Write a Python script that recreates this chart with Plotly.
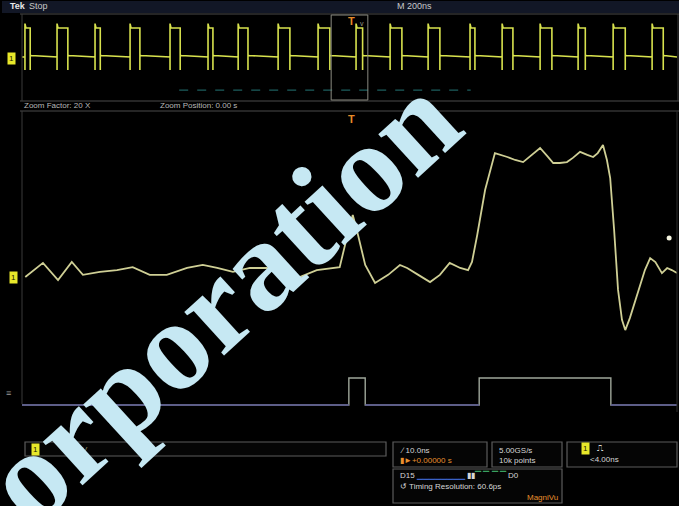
import plotly.graph_objects as go

W, H = 689, 506

# ---------------- data ----------------
# Overview acquisition (M 200ns/div): pulse rising / falling edge times (ns)
ov_rise = [-991, -893, -777, -670, -548, -432, -340, -218, -96, 20, 124, 240, 368, 466, 582, 698, 805, 924]
ov_fall = [-975, -860, -761, -640, -517, -417, -310, -182, -60, 40, 160, 276, 383, 499, 618, 720, 842, 958]
ov_low, ov_high = 0.0, 1.0
ov_under, ov_over = -0.45, 1.15

# Overview digital bus (faint)
ov_dig_t = [-520, 370]
ov_dig_v = [-1.14, -1.14]

# Zoomed analog trace, channel 1 (time ns, level in divisions)
z_t = [-49.5, -46.8, -44.5, -42.4, -40.7, -38.1, -35.5, -33.1, -30.5, -27.9, -24.8, -22.4,
       -20.2, -17.8, -15.2, -12.6, -10.2, -7.6, -5.0, -1.5, -0.5, 0.5, 1.3, 2.4, 3.9, 5.9,
       7.7, 8.8, 10.5, 12.3, 13.8, 15.3, 16.9, 18.1, 18.7, 19.5, 20.7, 22.2, 24.1, 25.3,
       26.5, 27.9, 29.1, 30.2, 31.1, 32.1, 33.2, 34.1, 35.2, 36.3, 37.2, 37.9, 38.7, 39.3,
       39.8, 40.4, 41.0, 41.6, 42.1, 42.8, 44.1, 45.1, 45.9, 46.7, 47.7, 48.5, 49.2, 50.0]
z_v = [0.0, 0.47, -0.1, 0.5, 0.07, 0.17, 0.23, 0.33, 0.07, 0.07, 0.3, 0.4,
       0.3, 0.17, 0.3, 0.3, 0.0, 0.0, 0.23, 0.33, 1.23, 2.07, 1.4, 0.4, -0.2, 0.07,
       0.4, 0.3, 0.07, -0.17, 0.07, 0.47, 0.3, 0.23, 0.5, 1.4, 2.9, 4.13, 4.0, 3.9,
       3.83, 4.07, 4.3, 4.03, 3.8, 3.8, 3.83, 3.97, 4.17, 4.07, 4.0, 4.13, 4.4, 3.9,
       3.3, 1.57, -0.43, -1.43, -1.77, -1.37, -0.43, 0.23, 0.63, 0.5, 0.13, 0.3, 0.23, 0.13]
cursor_t, cursor_v = [48.8], [1.3]

# Zoomed digital trace (logic level)
d_t = [-50, -0.1, -0.1, 2.4, 2.4, 19.8, 19.8, 39.9, 39.9, 50]
d_v = [0, 0, 1, 1, 0, 0, 1, 1, 0, 0]

zoom_window = [-50, 50]   # ns, shown as box on overview
ov_range = [-1000, 1000]

# ---------------- helpers ----------------
def px(x):
    return x / W

def py(y):
    return 1 - y / H

# build overview step waveform from edge lists
ox, oy = [ov_range[0]], [ov_low]
for r, f in zip(ov_rise, ov_fall):
    ox += [r, r, r, r + 3, f, f, f, f + 3]
    oy += [ov_low, ov_under, ov_over, ov_high, ov_high, ov_under, ov_low + 0.08, ov_low + 0.05]
ox.append(ov_range[1]); oy.append(ov_low)

# digital low segments
low_t, low_v = [], []
for i in range(len(d_t) - 1):
    if d_v[i] == 0 and d_v[i + 1] == 0:
        low_t += [d_t[i], d_t[i + 1], None]
        low_v += [0, 0, None]

fig = go.Figure()

fig.add_trace(go.Scatter(x=ox, y=oy, mode="lines", xaxis="x", yaxis="y",
                         line=dict(color="#d8e24e", width=1.6), hoverinfo="skip"))
fig.add_trace(go.Scatter(x=ov_dig_t, y=ov_dig_v, mode="lines", xaxis="x", yaxis="y",
                         line=dict(color="#1c5e5e", width=1.4, dash="dash"), hoverinfo="skip"))

fig.add_trace(go.Scatter(x=z_t, y=z_v, mode="lines", xaxis="x2", yaxis="y2",
                         line=dict(color="#cfcf95", width=1.8), hoverinfo="skip"))
fig.add_trace(go.Scatter(x=cursor_t, y=cursor_v, mode="markers", xaxis="x2", yaxis="y2",
                         marker=dict(color="#f4f4e0", size=5), hoverinfo="skip"))

fig.add_trace(go.Scatter(x=d_t, y=d_v, mode="lines", xaxis="x2", yaxis="y3",
                         line=dict(color="#9ea69a", width=1.4), hoverinfo="skip"))
fig.add_trace(go.Scatter(x=low_t, y=low_v, mode="lines", xaxis="x2", yaxis="y3",
                         line=dict(color="#54548f", width=1.6), hoverinfo="skip"))

ax_common = dict(showgrid=False, zeroline=False, showticklabels=False, ticks="",
                 showline=False, fixedrange=True)

fig.update_layout(
    width=W, height=H,
    margin=dict(l=0, r=0, t=0, b=0),
    paper_bgcolor="#000000", plot_bgcolor="#000000",
    showlegend=False,
    xaxis=dict(domain=[px(22), px(677)], range=ov_range, **ax_common),
    yaxis=dict(domain=[py(100), py(14)], range=[-1.48, 1.48], **ax_common),
    xaxis2=dict(domain=[px(22), px(677)], range=zoom_window, anchor="y2", **ax_common),
    yaxis2=dict(domain=[py(411), py(111)], range=[-4.467, 5.533], anchor="x2", **ax_common),
    yaxis3=dict(domain=[py(411), py(111)], range=[-0.222, 10.889], overlaying="y2",
                anchor="x2", **ax_common),
)

shapes = []
frame = "#4a4a4a"
# top header band
shapes.append(dict(type="rect", xref="paper", yref="paper", x0=px(2), x1=px(679), y0=py(13), y1=py(1),
                   fillcolor="#121726", line=dict(width=0), layer="below"))
# overview frame
shapes.append(dict(type="line", xref="paper", yref="paper", x0=px(20), x1=px(679), y0=py(14), y1=py(14),
                   line=dict(color=frame, width=1)))
shapes.append(dict(type="line", xref="paper", yref="paper", x0=px(20), x1=px(679), y0=py(101), y1=py(101),
                   line=dict(color=frame, width=1)))
shapes.append(dict(type="line", xref="paper", yref="paper", x0=px(22), x1=px(22), y0=py(14), y1=py(101),
                   line=dict(color="#3a3a3a", width=1)))
shapes.append(dict(type="line", xref="paper", yref="paper", x0=px(678), x1=px(678), y0=py(14), y1=py(101),
                   line=dict(color="#3a3a3a", width=1)))
# zoom box on overview
shapes.append(dict(type="rect", xref="x", yref="paper", x0=zoom_window[0] - 6, x1=zoom_window[1] + 6,
                   y0=py(100), y1=py(15), line=dict(color="#8a8a80", width=1)))
# zoom panel frame
shapes.append(dict(type="line", xref="paper", yref="paper", x0=px(20), x1=px(679), y0=py(111), y1=py(111),
                   line=dict(color=frame, width=1)))
shapes.append(dict(type="line", xref="paper", yref="paper", x0=px(22), x1=px(22), y0=py(111), y1=py(404),
                   line=dict(color="#3a3a3a", width=1)))
shapes.append(dict(type="line", xref="paper", yref="paper", x0=px(677), x1=px(677), y0=py(111), y1=py(412),
                   line=dict(color="#2e2e2e", width=1)))
# status boxes
box_line = dict(color="#5c5c5c", width=1.2)
for (x0, y0, x1, y1) in [(25, 442, 386, 456), (393, 442, 487, 467), (492, 442, 562, 467),
                         (567, 442, 677, 467), (393, 469, 562, 503)]:
    shapes.append(dict(type="rect", xref="paper", yref="paper", x0=px(x0), x1=px(x1),
                       y0=py(y1), y1=py(y0), line=box_line, fillcolor="#050505"))
# white right margin
shapes.append(dict(type="rect", xref="paper", yref="paper", x0=px(679), x1=1, y0=0, y1=1,
                   fillcolor="#ffffff", line=dict(width=0), layer="above"))
fig.update_layout(shapes=shapes)

ann = []
def txt(x, y, s, color="#cfcfcf", size=9, xanchor="left", family="Liberation Sans", **kw):
    ann.append(dict(x=px(x), y=py(y), xref="paper", yref="paper", text=s, showarrow=False,
                    xanchor=xanchor, yanchor="middle", font=dict(color=color, size=size, family=family), **kw))

def badge(x, y, s="1"):
    ann.append(dict(x=px(x), y=py(y), xref="paper", yref="paper", text=s, showarrow=False,
                    xanchor="center", yanchor="middle", bgcolor="#e8e82a", borderpad=1,
                    font=dict(color="#222200", size=8, family="Liberation Sans")))

txt(8, 6, "<b>Tek</b>", color="#e8e8e8", size=9)
txt(27, 6, "Stop", color="#c8c8c8", size=9)
txt(395, 6, "M 200ns", color="#c8c8c8", size=9)
txt(22, 105, "Zoom Factor: 20 X", color="#b8b8b8", size=8)
txt(158, 105, "Zoom Position: 0.00 s", color="#b8b8b8", size=8)
txt(351, 21, "<b>T</b>", color="#e58a28", size=11, xanchor="center")
txt(362, 24, "v", color="#9a9a8a", size=7, xanchor="center")
txt(351, 119, "<b>T</b>", color="#e58a28", size=11, xanchor="center")
badge(11, 58)
badge(13, 277)
txt(4, 393, "≡", color="#9a9a9a", size=9)
txt(80, 449, "V", color="#8a8a6a", size=8)
txt(398, 450, "∕ 10.0ns", color="#d6d6d6", size=8)
txt(398, 460, "▮►+0.00000 s", color="#e8902e", size=8)
txt(497, 450, "5.00GS/s", color="#d6d6d6", size=8)
txt(497, 460, "10k points", color="#d6d6d6", size=8)
badge(585, 448)
txt(595, 448, "⎍", color="#d6d6d6", size=9)
txt(588, 459, "&lt;4.00ns", color="#d6d6d6", size=8)
txt(398, 475, "D15 <span style='color:#3b63c8'>▁▁▁▁▁▁▁▁</span> ▮▮<span style='color:#3aa060'>▔ ▔ ▔ ▔</span> D0",
    color="#d6d6d6", size=8)
txt(398, 486, "↺ Timing Resolution: 60.6ps", color="#d6d6d6", size=8)
txt(560, 497, "MagniVu", color="#e8902e", size=8, xanchor="right")

# watermark
ann.append(dict(x=px(187), y=py(331), xref="paper", yref="paper", text="Corporation", showarrow=False,
                xanchor="center", yanchor="middle", textangle=-42.5,
                font=dict(color="#c6e8f3", size=128, family="Liberation Serif", weight="bold")))
# channel badge in status bar sits above the watermark
badge(35, 449)
fig.update_layout(annotations=ann)

fig.write_html("out.html", config={"displayModeBar": False, "staticPlot": True},
               post_script="document.body.style.margin='0';document.body.style.padding='0';"
                           "document.body.style.overflow='hidden';")
